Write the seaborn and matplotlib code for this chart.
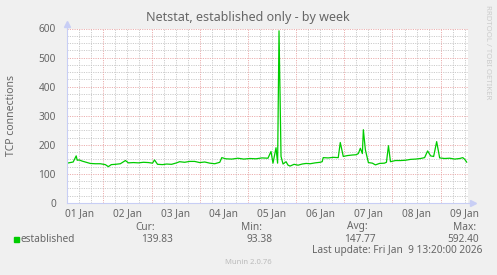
import numpy as np
import pandas as pd
import matplotlib
matplotlib.use("Agg")
import matplotlib.pyplot as plt
import seaborn as sns

# ---- data (hours since 01 Jan 00:00, TCP connections) ----
hours = [6, 7.5, 9, 10.5, 11, 12, 13.5, 15.5, 17.5, 20, 22.5, 25, 26.5, 28, 30,
         32.5, 35, 36.5, 39, 41.5, 44, 46.5, 48.5, 49.5, 51, 53.5, 55.5, 58,
         60.5, 62, 64.5, 67, 69.5, 72, 74.5, 77, 79.5, 82, 83, 85, 88, 91, 94,
         97, 100, 103, 106, 107.5, 108.5, 110, 110.8, 111.5, 112.5, 113.5, 115,
         116, 117, 119, 121, 123, 125, 127, 129.5, 132, 133, 133.5, 136, 138.5,
         141, 142, 143.5, 145.5, 148, 150, 151, 152, 153, 153.5, 154.5, 156,
         158, 159.5, 161.5, 164, 165, 166, 167, 169.5, 172, 174.5, 177, 179.5,
         182, 184, 185.5, 187, 188.5, 190, 191.5, 194, 196.5, 199, 201.5, 203,
         204, 205]
values = [137, 139, 141, 162, 147, 148, 144, 140, 136, 135, 135, 132, 125, 132,
          133, 135, 146, 138, 139, 138, 140, 139, 137, 148, 133, 132, 134, 133,
          138, 142, 140, 143, 143, 139, 141, 137, 135, 140, 156, 152, 151, 154,
          151, 153, 152, 155, 154, 177, 137, 190, 137, 592, 160, 134, 142, 130,
          127, 133, 130, 134, 136, 135, 138, 140, 142, 156, 155, 157, 156, 208,
          160, 163, 165, 166, 170, 188, 170, 252, 183, 139, 137, 131, 136, 137,
          140, 197, 142, 146, 146, 147, 150, 151, 153, 156, 179, 162, 160, 211,
          155, 153, 154, 151, 153, 156, 150, 140]
day_labels = ["01 Jan", "02 Jan", "03 Jan", "04 Jan", "05 Jan", "06 Jan",
              "07 Jan", "08 Jan", "09 Jan"]
y_ticks = [0, 100, 200, 300, 400, 500, 600]
series_name = "established"
stat_names = ["Cur:", "Min:", "Avg:", "Max:"]
stat_values = ["139.83", "93.38", "147.77", "592.40"]
title = "Netstat, established only - by week"
y_label = "TCP connections"
last_update = "Last update: Fri Jan  9 13:20:00 2026"
footer = "Munin 2.0.76"
side_text = "RRDTOOL / TOBI OETIKER"

# ---- style ----
sns.set_theme(style="white")
plt.rcParams['font.family'] = ['Noto Sans', 'DejaVu Sans']
FONT = '#666666'
AXIS = '#C8CEF5'
GRID = '#C4C4C4'
MGRID = '#E9A3A3'
GREEN = '#00CC00'

W, H = 497, 275
fig = plt.figure(figsize=(W / 100, H / 100), dpi=100, facecolor='#F0F0F0')
ax = fig.add_axes([67 / W, 72 / H, 401 / W, 174.5 / H])
ax.set_facecolor('white')

df = pd.DataFrame({'day': np.array(hours) / 24.0, 'conn': values})
sns.lineplot(data=df, x='day', y='conn', ax=ax, color=GREEN, linewidth=0.9,
             zorder=5, legend=False)

ax.set_xlim(0.2467, 8.567)
ax.set_ylim(0, 600)

# x: labels at noon; y: labels every 100
noon = np.arange(len(day_labels)) + 0.5
ax.set_xticks(noon, labels=day_labels)
ax.set_yticks(y_ticks, labels=[str(v) for v in y_ticks])
ax.tick_params(axis='x', which='major', length=0, pad=4, labelsize=7.3, labelcolor=FONT)
ax.tick_params(axis='y', which='major', length=2, width=0.6, color=MGRID, pad=6,
               labelsize=7.3, labelcolor=FONT)
ax.grid(False)

dots = (0, (1.4, 1.4))
# minor grid: every 6 hours and every 25 connections
for q in np.arange(0.25, 8.6, 0.25):
    if abs(q - round(q)) > 1e-6:
        ax.axvline(q, color=GRID, linewidth=0.6, linestyle=dots, zorder=1)
for v in np.arange(25, 600, 25):
    if v % 100:
        ax.axhline(v, color=GRID, linewidth=0.6, linestyle=dots, zorder=1)
# major grid: midnight and every 100
for d in range(1, 9):
    ax.axvline(d, color=MGRID, linewidth=0.6, linestyle=dots, zorder=2)
for v in y_ticks[1:]:
    ax.axhline(v, color=MGRID, linewidth=0.6, linestyle=dots, zorder=2)

for s in ['top', 'right']:
    ax.spines[s].set_visible(False)
for s in ['left', 'bottom']:
    ax.spines[s].set_color(AXIS)
    ax.spines[s].set_linewidth(0.8)
    ax.spines[s].set_zorder(6)
# arrows
ax.plot([1.0, 1.012], [0, 0], transform=ax.transAxes, color=AXIS, lw=0.8, clip_on=False)
ax.plot([1.013], [0], marker='>', ms=4, color=AXIS, transform=ax.transAxes, clip_on=False)
ax.plot([0, 0], [1.0, 1.02], transform=ax.transAxes, color=AXIS, lw=0.8, clip_on=False)
ax.plot([0], [1.025], marker='^', ms=4, color=AXIS, transform=ax.transAxes, clip_on=False)

ax.set_xlabel('')
ax.set_ylabel('')

# texts in pixel coordinates of the figure
def ft(x, y, s, **kw):
    kw.setdefault('color', FONT)
    kw.setdefault('fontsize', 7.3)
    fig.text(x / W, 1 - y / H, s, **kw)

ft(248, 17, title, ha='center', va='center', fontsize=9.0)
ft(12, 116, y_label, ha='center', va='center', rotation=90, fontsize=7.5)
ft(487, 52, side_text, ha='center', va='center', rotation=270, fontsize=5.6,
   color='#CCCCCC')

# legend
fig.patches.append(plt.Rectangle((14 / W, 1 - 242 / H), 5 / W, 5 / H,
                                 transform=fig.transFigure, color=GREEN))
ft(20.5, 239, series_name, ha='left', va='center')
name_right = [155, 261.7, 367.7, 476]
val_right = [172.7, 272.7, 376, 479.3]
for nm, vl, nr, vr in zip(stat_names, stat_values, name_right, val_right):
    ft(nr, 227, nm, ha='right', va='center')
    ft(vr, 239, vl, ha='right', va='center')
ft(482.3, 251, last_update, ha='right', va='center')
ft(248, 262.5, footer, ha='center', va='center', fontsize=5.5, color='#BBBBBB')

fig.savefig('out.png', dpi=100, facecolor=fig.get_facecolor())
